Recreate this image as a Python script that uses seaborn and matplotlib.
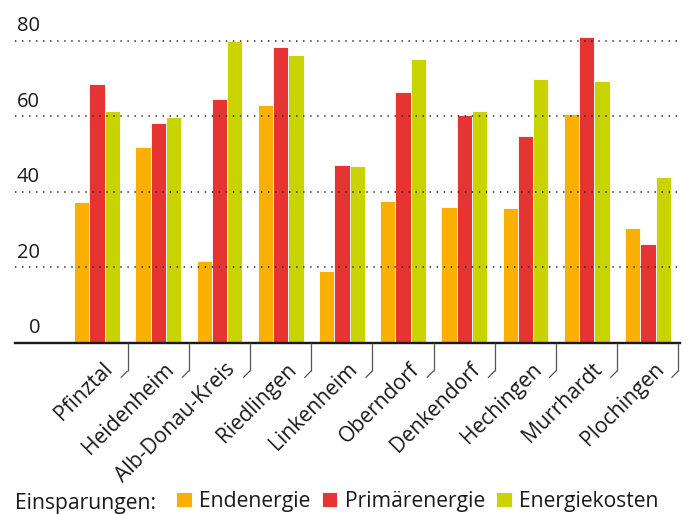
import numpy as np
import pandas as pd
import matplotlib
matplotlib.use("Agg")
import matplotlib.pyplot as plt
import matplotlib.transforms as mtransforms
import seaborn as sns

# ---- data ----
orte = ["Pfinztal", "Heidenheim", "Alb-Donau-Kreis", "Riedlingen", "Linkenheim",
        "Oberndorf", "Denkendorf", "Hechingen", "Murrhardt", "Plochingen"]
endenergie = [37.2, 51.9, 21.7, 63.0, 19.1, 37.6, 36.0, 35.8, 60.7, 30.5]
primaerenergie = [68.6, 58.3, 64.6, 78.4, 47.2, 66.5, 60.4, 54.8, 81.1, 26.2]
energiekosten = [61.5, 59.9, 79.8, 76.3, 46.9, 75.2, 61.5, 69.9, 69.4, 44.0]
serien = ["Endenergie", "Primärenergie", "Energiekosten"]
farben = ["#F9B000", "#E63433", "#C8D300"]
yticks = [0, 20, 40, 60, 80]
legend_title = "Einsparungen:"

df = pd.DataFrame({
    "Ort": orte * 3,
    "Art": [s for s in serien for _ in orte],
    "Wert": endenergie + primaerenergie + energiekosten,
})

sns.set_theme(style="white")
plt.rcParams["font.family"] = ["Open Sans", "DejaVu Sans"]

W, H = 688, 514
fig = plt.figure(figsize=(W / 100, H / 100), dpi=100)
ax = fig.add_axes([15 / W, (H - 343) / H, 665 / W, 343 / H])

sns.barplot(data=df, x="Ort", y="Wert", hue="Art", hue_order=serien,
            palette=farben, saturation=1, width=0.75, edgecolor="white",
            linewidth=0.6, ax=ax)

ax.set_xlim(-1.342, 9.525)
ax.set_ylim(0, 90.77)
ax.set_xlabel("")
ax.set_ylabel("")

for s in ["left", "right", "top"]:
    ax.spines[s].set_visible(False)
ax.spines["bottom"].set_color("#1a1a1a")
ax.spines["bottom"].set_linewidth(1.7)

# dotted grid on top of bars
ax.set_axisbelow(False)
ax.set_yticks(yticks)
ax.tick_params(axis="y", left=False, labelleft=False)
ax.yaxis.grid(True, linestyle=(0, (0.9, 3.7)), linewidth=1.1, color="#222222")
ax.xaxis.grid(False)

for v in yticks:
    ax.annotate(str(v), xy=(0, v), xycoords=ax.get_yaxis_transform(),
                xytext=(18, 7), textcoords="offset points",
                ha="right", va="baseline", fontsize=14.5, color="#1a1a1a")

# ticks between groups
bounds = np.arange(len(orte)) + 0.5
ax.set_xticks(bounds)
ax.set_xticklabels([""] * len(bounds))
ax.tick_params(axis="x", direction="out", length=20, width=0.9,
               color="#555555", bottom=True)

pt2px = mtransforms.Affine2D().scale(fig.dpi / 72.0)
for xb, name in zip(bounds, orte):
    tr = pt2px + mtransforms.ScaledTranslation(xb, 0, ax.get_xaxis_transform())
    ax.plot([0, -5], [-20, -25], transform=tr, color="#555555", lw=0.9,
            clip_on=False, solid_capstyle="butt")
    ax.annotate(name, xy=(xb, 0), xycoords=ax.get_xaxis_transform(),
                xytext=(-10, -19.5), textcoords="offset points",
                rotation=45, rotation_mode="anchor", ha="right", va="baseline",
                fontsize=15.2, color="#1a1a1a")

# legend
handles, labels = ax.get_legend_handles_labels()
if ax.legend_ is not None:
    ax.legend_.remove()
fig.text(14.7 / W, (H - 509) / H, legend_title, ha="left", va="baseline",
         fontsize=15.2, color="#1a1a1a")
fig.legend(handles, labels, loc="lower left",
           bbox_to_anchor=(176 / W, 2 / H), ncol=3, frameon=False,
           fontsize=15.2, handlelength=0.74, handleheight=0.74,
           handletextpad=0.34, columnspacing=0.55, borderpad=0,
           borderaxespad=0, labelcolor="#1a1a1a")

fig.savefig("out.png", dpi=100)
